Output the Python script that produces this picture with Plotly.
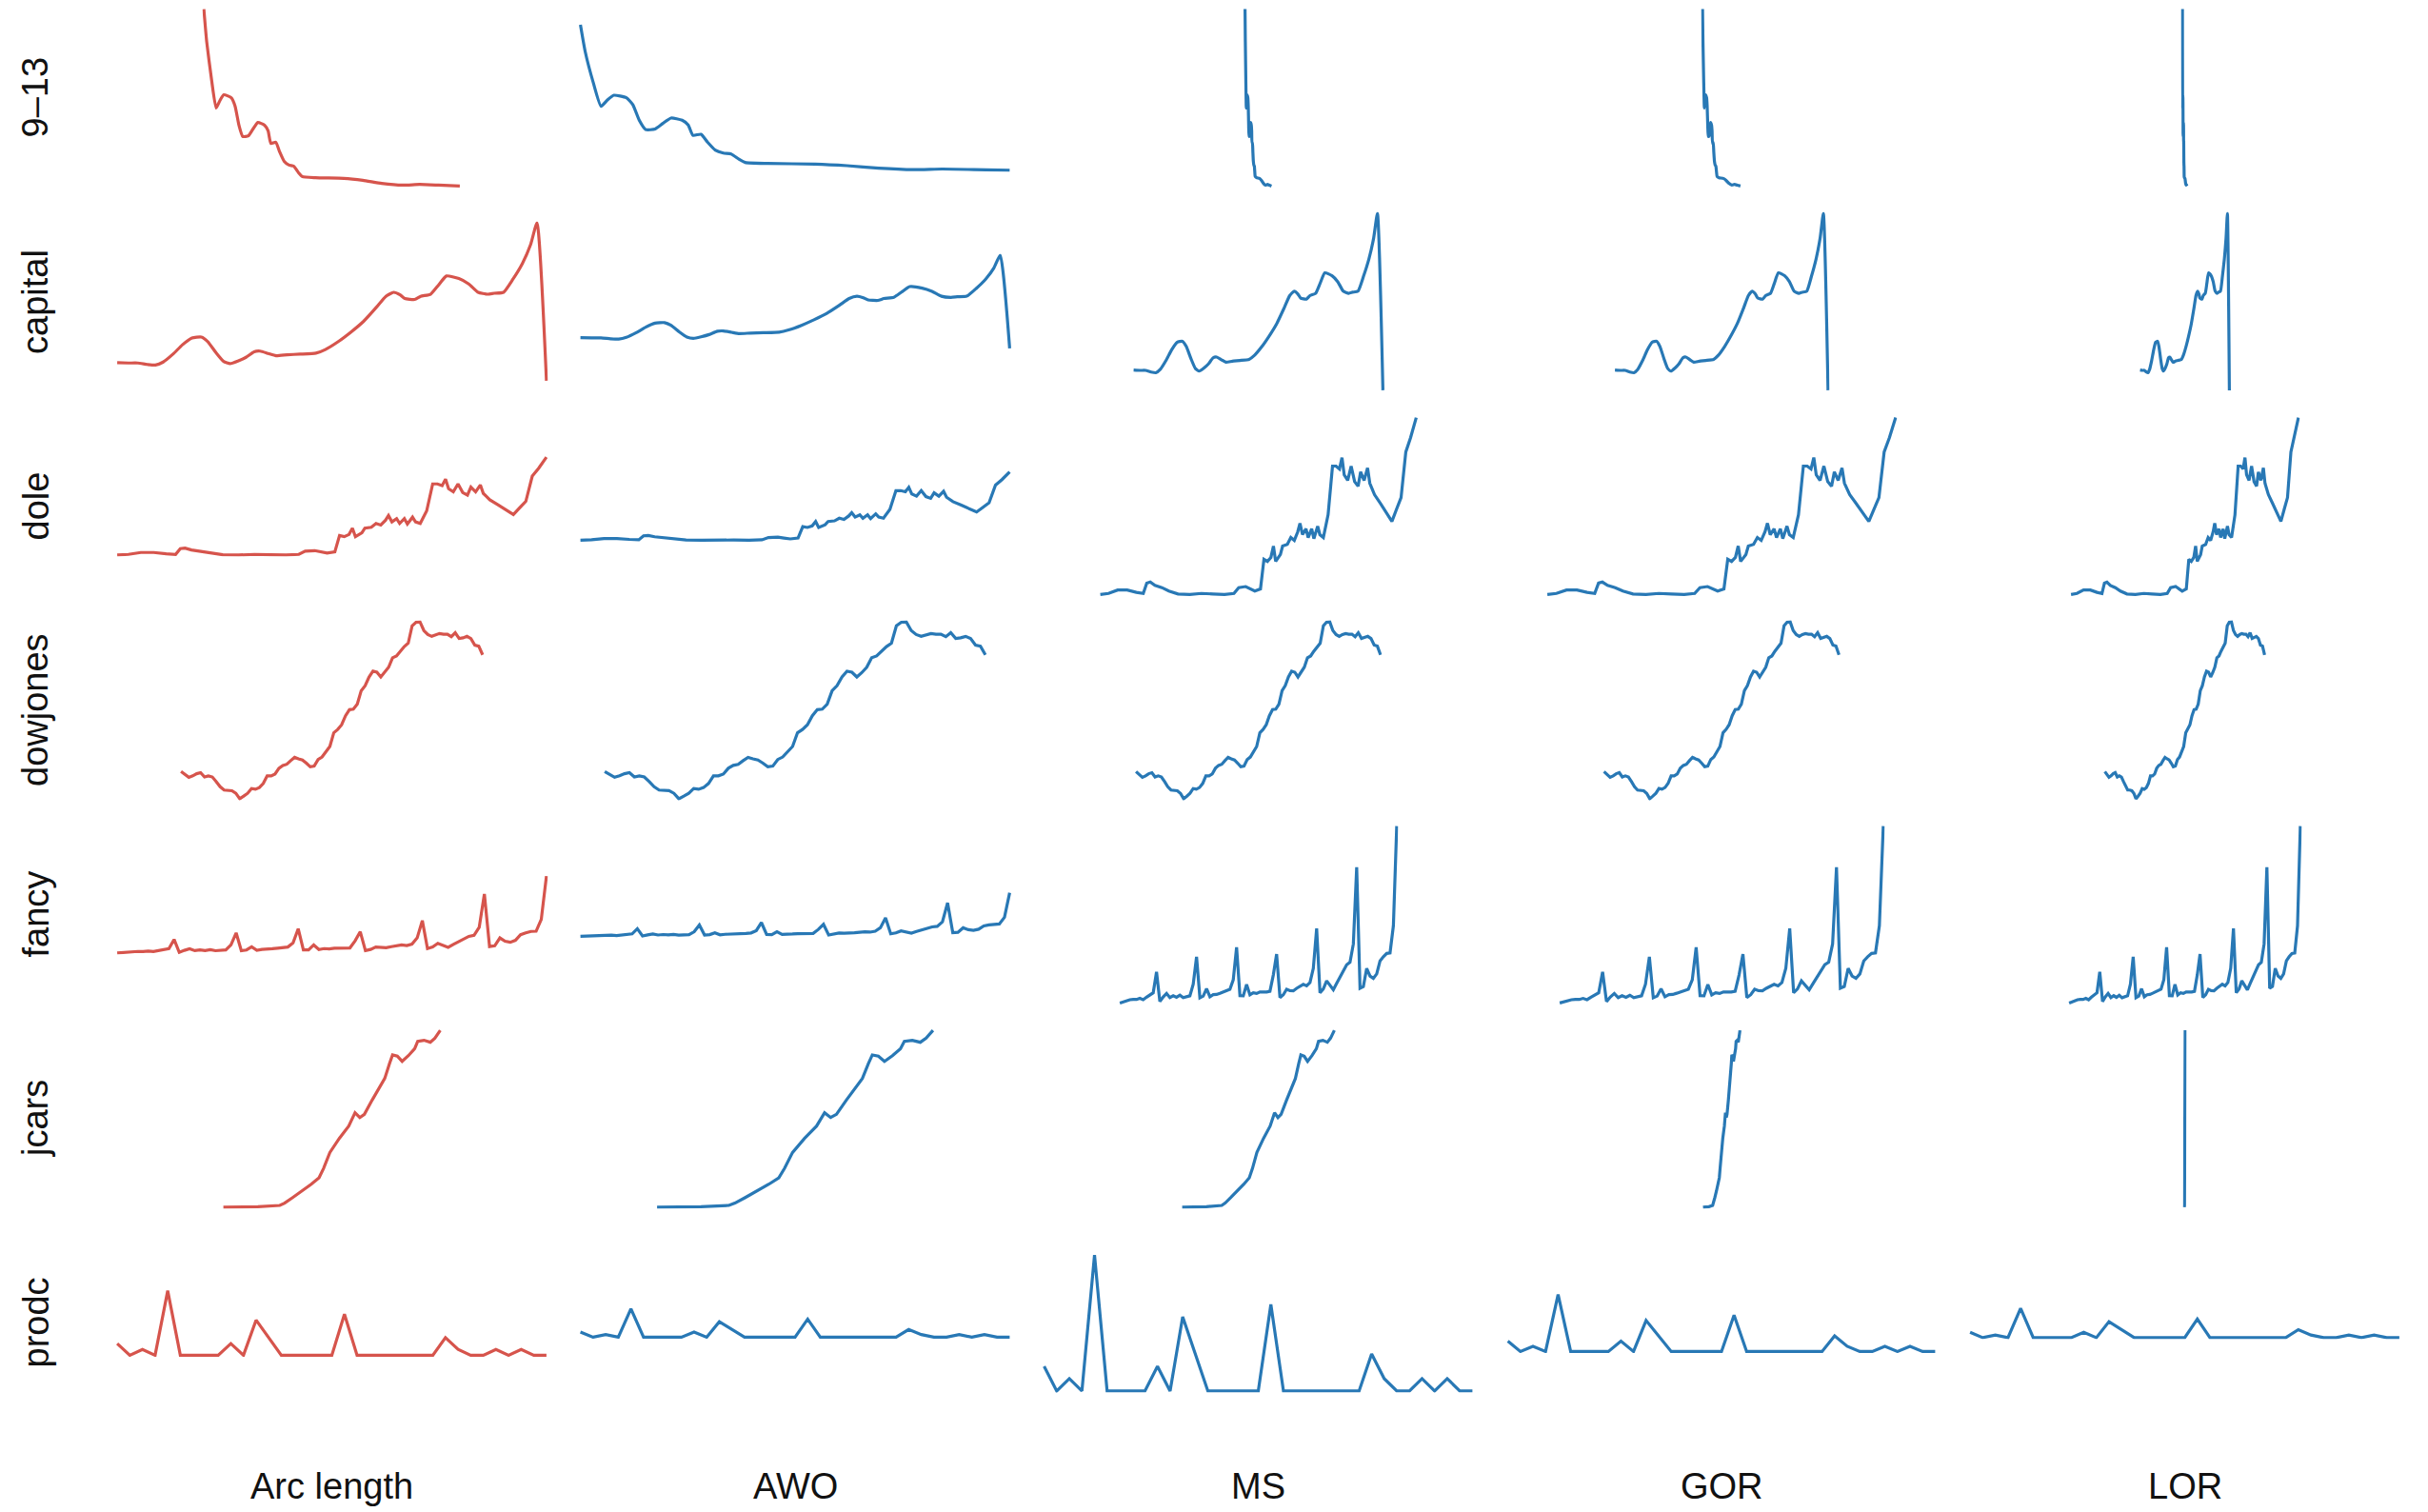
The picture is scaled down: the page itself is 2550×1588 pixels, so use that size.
import plotly.graph_objects as go

# ---------------------------------------------------------------------------
# Series (time index, value)
# ---------------------------------------------------------------------------
nine13_t = [0, 1.1, 3.0, 4.8, 6.3, 7.8, 10.7, 12.2, 13.7, 15.2, 17.4, 19.2, 21.1,
            23.7, 25.1, 26.2, 28.1, 29.6, 31.4, 33.3, 35.1, 37.0, 38.4, 43.6,
            54.7, 62.1, 69.5, 77.6, 84.3, 91.7, 100]
nine13_v = [100, 81.8, 60.4, 44.3, 48.6, 51.8, 50.1, 45.4, 34.7, 28.3, 28.7, 32.5,
            36.2, 34.7, 31.5, 24.4, 25.1, 19.7, 14.3, 12.2, 11.6, 7.9, 5.8, 5.1,
            4.7, 3.6, 1.9, 0.9, 1.3, 0.9, 0.4]

capital_t = [0, 2.6, 4.8, 7.0, 8.9, 10.7, 13.0, 15.2, 17.4, 19.6, 21.1, 23.0, 24.8,
             26.3, 28.1, 30.0, 31.9, 33.3, 35.2, 37.0, 39.6, 42.6, 46.3, 48.5,
             51.5, 54.4, 57.4, 60.4, 62.6, 64.4, 65.9, 67.0, 69.3, 70.7, 73.0,
             74.8, 76.7, 79.6, 81.9, 84.1, 86.3, 87.8, 90.0, 92.2, 94.4, 96.3,
             97.8, 100]
capital_v = [11.4, 11.2, 11.2, 10.3, 9.9, 11.8, 16.8, 22.7, 27.0, 27.6, 24.7, 17.8,
             12.2, 10.8, 12.4, 14.8, 18.3, 18.7, 17.2, 15.8, 16.4, 16.8, 17.4,
             19.7, 24.7, 30.6, 37.5, 46.4, 53.3, 55.8, 54.2, 51.9, 51.3, 53.3,
             54.6, 60.2, 66.1, 64.5, 61.1, 55.8, 54.6, 55.2, 55.8, 64.1, 74.0,
             85.8, 99.6, 0]

dole_t = [0, 2.6, 5.5, 8.5, 11.4, 13.6, 14.7, 15.8, 17.3, 19.5, 21.7, 24.6, 28.3,
          32.0, 35.7, 39.3, 42.3, 43.8, 46.0, 47.4, 48.9, 50.7, 51.8, 52.9, 54.0,
          54.8, 55.5, 57.0, 57.7, 59.2, 60.3, 61.4, 62.5, 63.2, 64.0, 65.1, 65.8,
          66.9, 67.6, 68.8, 69.5, 70.6, 72.1, 73.5, 74.6, 75.7, 76.5, 77.2, 78.3,
          79.4, 80.5, 81.6, 82.4, 83.5, 84.6, 85.3, 86.8, 88.6, 90.4, 92.3, 93.8,
          95.2, 96.7, 98.2, 100]
dole_v = [1.6, 2.2, 4.1, 4.1, 2.8, 2.2, 7.9, 8.5, 6.6, 5.4, 3.5, 1.9, 1.6, 2.2,
          1.9, 1.6, 2.2, 5.4, 6.0, 4.7, 3.5, 4.7, 21.1, 19.9, 22.1, 28.4, 19.9,
          23.7, 28.4, 29.3, 33.1, 31.5, 36.3, 41.0, 34.7, 37.9, 33.1, 37.9, 32.5,
          39.4, 34.7, 33.1, 45.7, 72.6, 72.6, 71.0, 77.3, 67.8, 64.7, 72.6, 64.0,
          61.5, 69.4, 64.7, 71.6, 63.1, 56.8, 52.1, 47.3, 42.0, 48.9, 55.2, 80.4,
          88.3, 99.4]

dowjones_index = [110.94, 110.69, 110.43, 110.56, 110.75, 110.84, 110.46, 110.56,
                  110.46, 110.05, 109.60, 109.31, 109.31, 109.25, 109.02, 108.54,
                  108.77, 109.02, 109.44, 109.38, 109.53, 109.89, 110.56, 110.56,
                  110.72, 111.23, 111.48, 111.58, 111.90, 112.19, 112.06, 111.96,
                  111.68, 111.36, 111.42, 112.00, 112.22, 112.70, 113.15, 114.36,
                  114.65, 115.06, 115.86, 116.40, 116.44, 116.88, 118.07, 118.51,
                  119.28, 119.79, 119.70, 119.28, 119.66, 120.14, 120.97, 121.13,
                  121.55, 121.96, 122.26, 123.79, 124.11, 124.14, 123.37, 123.02,
                  122.86, 123.02, 123.11, 123.05, 123.05, 122.83, 123.18, 122.67,
                  122.73, 122.86, 122.67, 122.09, 122.00, 121.23]

fancy_sales = [1664.81, 2397.53, 2840.71, 3547.29, 3752.96, 3714.74, 4349.61, 3566.34,
               5021.82, 6423.48, 7600.60, 19756.21,
               2499.81, 5198.24, 7225.14, 4806.03, 5900.88, 4951.34, 6179.12, 4752.15,
               5496.43, 5835.10, 12600.08, 28541.72,
               4717.02, 5702.63, 9957.58, 5304.78, 6492.43, 6630.80, 7349.62, 8176.62,
               8573.17, 9690.50, 15151.84, 34061.01,
               5921.10, 5814.58, 12421.25, 6369.77, 7609.12, 7224.75, 8121.22, 7979.25,
               8093.06, 8476.70, 17914.66, 30114.41,
               4826.64, 6470.23, 9638.77, 8821.17, 8722.37, 10209.48, 11276.55, 12552.22,
               11637.39, 13606.89, 21822.11, 45060.69,
               7615.03, 9849.69, 14558.40, 11587.33, 9332.56, 13082.09, 16732.78, 19888.61,
               23933.38, 25391.35, 36024.80, 80721.71,
               10243.24, 11266.88, 21826.84, 17357.33, 15997.79, 18601.53, 26155.15, 28586.52,
               30505.41, 30821.33, 46634.38, 104660.67]

jcars_t = [0, 7.2, 15.9, 26.0, 28.2, 31.8, 36.1, 40.5, 44.1, 46.2, 49.1, 53.5, 57.8,
           60.7, 62.9, 65.0, 68.6, 72.3, 74.4, 76.6, 78.0, 80.2, 82.4, 85.3, 88.2,
           89.6, 92.5, 95.4, 97.5, 100]
jcars_v = [0.4, 0.4, 0.7, 1.4, 2.7, 5.7, 9.3, 13.3, 16.9, 22.2, 31.1, 39.1, 45.9,
           53.4, 50.7, 52.5, 60.5, 68.5, 72.6, 81.0, 85.8, 85.1, 82.2, 85.4, 89.3,
           93.4, 94.0, 92.9, 95.2, 99.6]

prodc_counts = [2, 0, 1, 0, 11, 0, 0, 0, 0, 2, 0, 6, 3, 0, 0, 0, 0, 0, 7, 0, 0, 0,
                0, 0, 0, 0, 3, 1, 0, 0, 1, 0, 1, 0, 0]

row_labels = ["9\u201313", "capital", "dole", "dowjones", "fancy", "jcars", "prodc"]
method_labels = ["Arc length", "AWO", "MS", "GOR", "LOR"]

series = [
    (nine13_t, nine13_v),
    (capital_t, capital_v),
    (dole_t, dole_v),
    (list(range(len(dowjones_index))), dowjones_index),
    (list(range(len(fancy_sales))), fancy_sales),
    (jcars_t, jcars_v),
    (list(range(len(prodc_counts))), prodc_counts),
]

# smooth curves for the two slowly varying series, straight segments elsewhere
row_line_shape = ["spline", "spline", "linear", "linear", "linear", "linear", "linear"]

# ---------------------------------------------------------------------------
# Page geometry: every panel is centred in its grid cell, its size set by
# the aspect ratio each banking method selects.
# ---------------------------------------------------------------------------
W, H = 2550, 1588
COL_X0, COL_STEP = 348.5, 486.5
ROW_Y0, ROW_STEP = 102.5, 214.5
LABEL_Y = 1561
ROW_LABEL_X = 37

panel_px = [  # (width, height) in pixels, per row and method
    [(272, 189), (454, 156), (31, 189), (43, 189), (8, 189)],
    [(454, 169), (454, 101), (265, 189), (227, 189), (97, 189)],
    [(454, 106), (454, 75), (335, 189), (369, 189), (242, 189)],
    [(320, 189), (403, 189), (260, 189), (250, 189), (171, 189)],
    [(454, 84), (454, 49), (294, 189), (343, 189), (246, 189)],
    [(231, 189), (293, 189), (163, 189), (42, 189), (4, 189)],
    [(454, 71), (454, 33), (453, 146), (452, 63), (454, 34)],
]

RED = "#d6544c"
BLUE = "#2878b5"
LW = 3.2
FONT = "Liberation Sans, Arial, Helvetica, sans-serif"

fig = go.Figure()
layout_axes = {}


def padded(lo, hi, px):
    span = (hi - lo) or 1.0
    inner = max(px - LW, 1.0)
    pad = span * (LW / 2) / inner
    return [lo - pad, hi + pad]


for r, (tt, vv) in enumerate(series):
    cy = ROW_Y0 + ROW_STEP * r
    for c in range(len(method_labels)):
        cx = COL_X0 + COL_STEP * c
        w, h = panel_px[r][c]
        n = r * len(method_labels) + c + 1
        xa = "x" if n == 1 else f"x{n}"
        ya = "y" if n == 1 else f"y{n}"
        line = dict(color=RED if c == 0 else BLUE, width=LW, shape=row_line_shape[r])
        if row_line_shape[r] == "spline":
            line["smoothing"] = 0.5
        fig.add_trace(go.Scatter(
            x=tt, y=vv, mode="lines", xaxis=xa, yaxis=ya, line=line,
            hoverinfo="skip", showlegend=False,
        ))
        ax_common = dict(visible=False, showgrid=False, zeroline=False, fixedrange=True)
        layout_axes["xaxis" if n == 1 else f"xaxis{n}"] = dict(
            domain=[(cx - w / 2) / W, (cx + w / 2) / W],
            range=padded(min(tt), max(tt), w), anchor=ya, **ax_common)
        layout_axes["yaxis" if n == 1 else f"yaxis{n}"] = dict(
            domain=[1 - (cy + h / 2) / H, 1 - (cy - h / 2) / H],
            range=padded(min(vv), max(vv), h), anchor=xa, **ax_common)

annotations = []
for c, name in enumerate(method_labels):
    annotations.append(dict(
        text=name, x=(COL_X0 + COL_STEP * c) / W, y=1 - LABEL_Y / H,
        xref="paper", yref="paper", showarrow=False,
        xanchor="center", yanchor="middle",
        font=dict(family=FONT, size=38, color="#111111")))
for r, name in enumerate(row_labels):
    annotations.append(dict(
        text=name, x=ROW_LABEL_X / W, y=1 - (ROW_Y0 + ROW_STEP * r) / H,
        xref="paper", yref="paper", showarrow=False, textangle=-90,
        xanchor="center", yanchor="middle",
        font=dict(family=FONT, size=38, color="#111111")))

fig.update_layout(
    width=W, height=H, margin=dict(l=0, r=0, t=0, b=0),
    paper_bgcolor="white", plot_bgcolor="rgba(0,0,0,0)",
    showlegend=False, annotations=annotations, **layout_axes)

fig.write_html("out.html", config={"displayModeBar": False})
